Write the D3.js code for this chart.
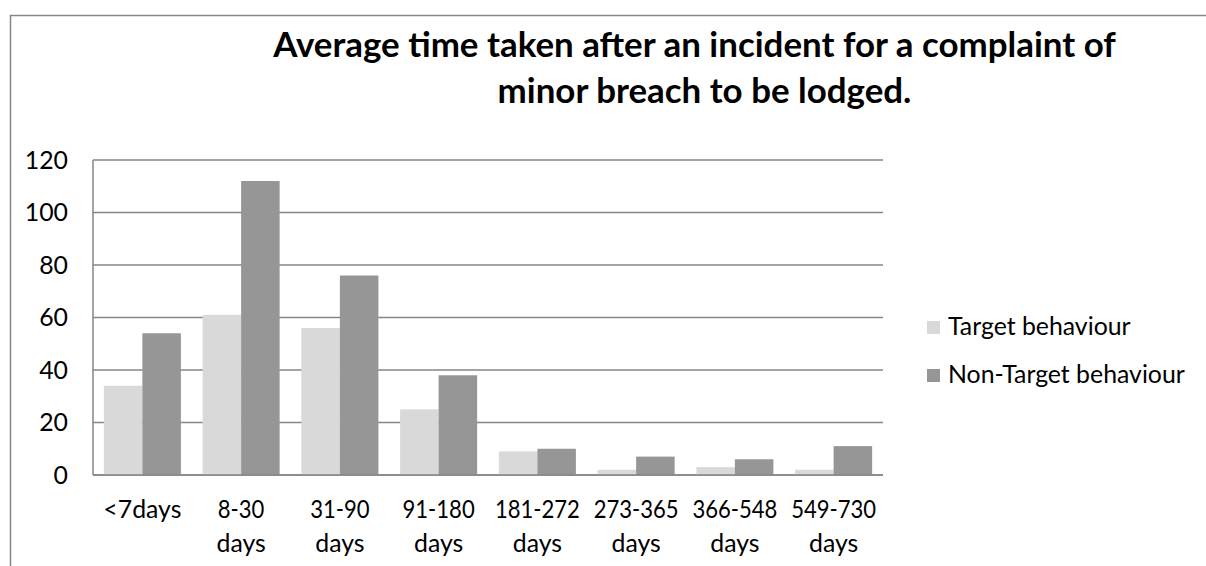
<!DOCTYPE html>
<html>
<head>
<meta charset="utf-8">
<script src="https://cdn.jsdelivr.net/npm/d3@7"></script>
<style>
  body { margin: 0; background: #fff; }
  text { font-family: Lato, "Open Sans", sans-serif; fill: #000; }
</style>
</head>
<body>
<svg width="1206" height="566"></svg>
<script>
// chart data
let categories = ["<7days", "8-30 days", "31-90 days", "91-180 days", "181-272 days", "273-365 days", "366-548 days", "549-730 days"];
let seriesNames = ["Target behaviour", "Non-Target behaviour"];
let target = [34, 61, 56, 25, 9, 2, 3, 2];
let nonTarget = [54, 112, 76, 38, 10, 7, 6, 11];
let yTicks = [0, 20, 40, 60, 80, 100, 120];
let titleLines = ["Average time taken after an incident for a complaint of", "minor breach to be lodged."];

let colors = ["#d9d9d9", "#969696"];

let svg = d3.select("svg"),
  plotL = 93, plotR = 883, plotT = 160, plotB = 475;

// outer frame (only left + top edges show in the picture)
svg.append("path")
  .attr("d", "M10.5,566V15.5H1206")
  .attr("fill", "none")
  .attr("stroke", "#878787")
  .attr("stroke-width", 1.5);

// title, fitted to the measured width of the first line
let title = svg.append("g");
let t1 = title.append("text")
  .attr("x", 694.5).attr("y", 57)
  .attr("text-anchor", "middle")
  .style("font-weight", "bold")
  .style("font-size", "30px")
  .text(titleLines[0]);
let tSize = 30 * 843 / t1.node().getComputedTextLength();
t1.style("font-size", tSize + "px");
title.append("text")
  .attr("x", 704.5).attr("y", 103)
  .attr("text-anchor", "middle")
  .style("font-weight", "bold")
  .style("font-size", tSize + "px")
  .text(titleLines[1]);

// label font size, fitted to the legend text width
function widthAt(str, size) {
  let p = svg.append("text").style("font-size", size + "px").text(str);
  let w = p.node().getComputedTextLength();
  p.remove();
  return w;
}
let fs = 20 * 237 / widthAt(seriesNames[1], 20);
// digits run narrower in the original font: squeeze the range lines a little
let squeeze = Math.min(1, 85 / widthAt("181-272", fs));

let x = d3.scaleBand()
  .domain(categories)
  .range([plotL, plotR])
  .paddingInner(0.22)
  .paddingOuter(0.11);

let xs = d3.scaleBand()
  .domain([0, 1])
  .range([0, x.bandwidth()]);

let y = d3.scaleLinear()
  .domain([0, 120])
  .range([plotB, plotT]);

// gridlines
svg.append("g")
  .selectAll("line")
  .data(yTicks)
  .enter().append("line")
  .attr("x1", plotL).attr("x2", plotR)
  .attr("y1", (d) => y(d)).attr("y2", (d) => y(d))
  .attr("stroke", "#868686")
  .attr("stroke-width", 1.5);

// bars
let groups = svg.append("g")
  .selectAll("g")
  .data(categories)
  .enter().append("g")
  .attr("transform", (d) => "translate(" + x(d) + ",0)");

groups.selectAll("rect")
  .data((d, i) => [target[i], nonTarget[i]])
  .enter().append("rect")
  .attr("x", (d, j) => xs(j))
  .attr("width", xs.bandwidth())
  .attr("y", (d) => y(d))
  .attr("height", (d) => plotB - y(d))
  .attr("fill", (d, j) => colors[j]);

// baseline redrawn over the bars, plus the y axis line
svg.append("line")
  .attr("x1", plotL).attr("x2", plotR)
  .attr("y1", y(0)).attr("y2", y(0))
  .attr("stroke", "#868686").attr("stroke-width", 1.5);
svg.append("line")
  .attr("x1", plotL).attr("x2", plotL)
  .attr("y1", plotT).attr("y2", plotB)
  .attr("stroke", "#868686").attr("stroke-width", 1.5);

// y tick labels
svg.append("g")
  .selectAll("text")
  .data(yTicks)
  .enter().append("text")
  .attr("x", 68)
  .attr("y", (d) => y(d))
  .attr("dy", "0.36em")
  .attr("text-anchor", "end")
  .style("font-size", fs + "px")
  .text((d) => d);

// x labels, wrapped like the original (one text per line)
let xg = svg.append("g");
categories.forEach((d) => {
  let parts = d.indexOf(" ") > 0 ? d.split(" ") : [d];
  parts.forEach((p, k) => {
    let t = xg.append("text")
      .attr("x", x(d) + x.bandwidth() / 2)
      .attr("y", 518 + k * 34)
      .attr("text-anchor", "middle")
      .style("font-size", fs + "px")
      .text(p);
    if (k === 0 && parts.length > 1 && squeeze < 1) {
      t.attr("textLength", t.node().getComputedTextLength() * squeeze)
        .attr("lengthAdjust", "spacingAndGlyphs");
    }
  });
});

// legend
let legend = svg.append("g")
  .selectAll("g")
  .data(seriesNames)
  .enter().append("g")
  .attr("transform", (d, i) => "translate(927," + (335 + i * 48) + ")");

legend.append("rect")
  .attr("x", 0).attr("y", -14)
  .attr("width", 13).attr("height", 13)
  .attr("fill", (d, i) => colors[i]);

legend.append("text")
  .attr("x", 21)
  .style("font-size", fs + "px")
  .text((d) => d);
</script>
</body>
</html>
